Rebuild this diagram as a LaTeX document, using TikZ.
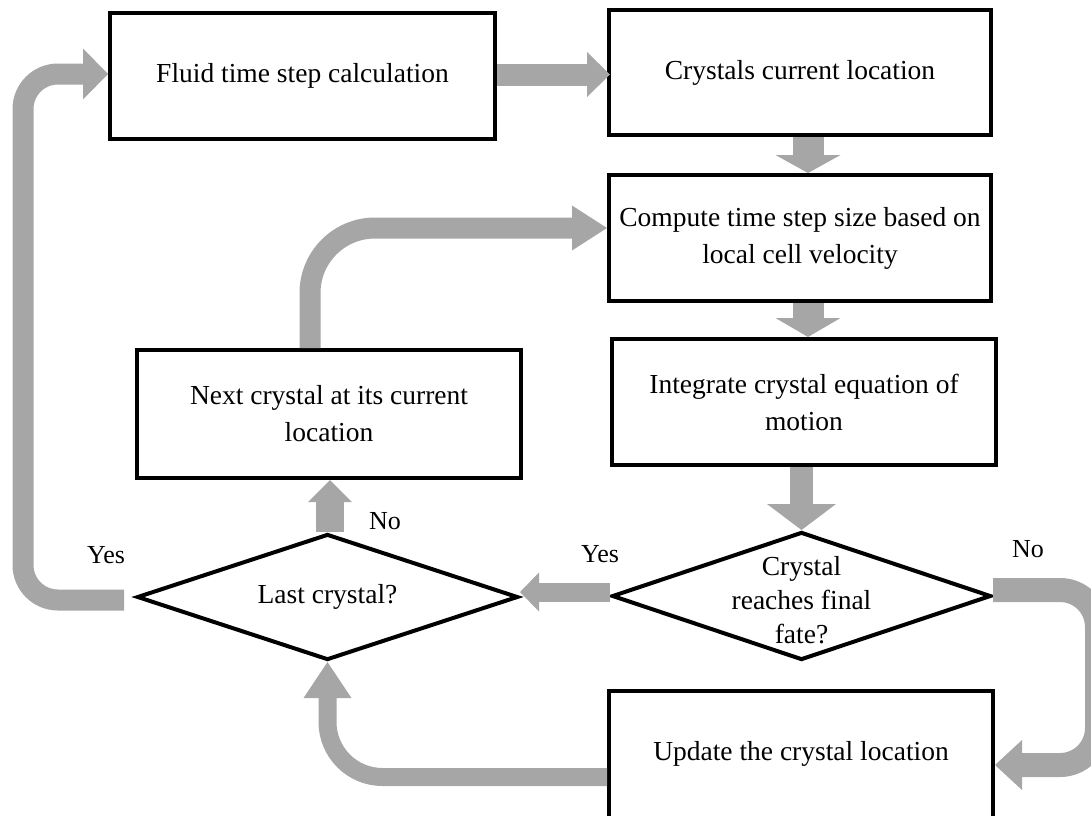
\documentclass[tikz,border=0pt]{standalone}
\usepackage{fontspec}
\setmainfont{Liberation Serif}
\usetikzlibrary{arrows.meta,shapes.geometric,calc}
\definecolor{arrowgray}{HTML}{A6A6A6}
\begin{document}
\begin{tikzpicture}[x=1pt,y=-1pt,
 box/.style={draw=black, line width=4pt, rectangle, inner sep=0pt, align=center, font=\fontsize{27.5}{37}\selectfont},
 dia/.style={draw=black, line width=4pt, diamond, inner sep=0pt},
 txt/.style={align=center, font=\fontsize{27.5}{34}\selectfont},
 lab/.style={font=\fontsize{26}{30}\selectfont},
 blk/.style n args={3}{draw=arrowgray, line width=#1pt, -{Triangle[length=#2pt, width=#3pt, line width=0pt, fill=arrowgray]}},
]
\useasboundingbox (0,0) rectangle (1091,815);
\clip (0,0) rectangle (1091,815);

% boxes
\node[box, minimum width=385pt, minimum height=126pt] (fluid) at (302.5,76) {Fluid time step calculation};
\node[box, minimum width=382pt, minimum height=125pt] (crys) at (800,72.5) {Crystals current location};
\node[box, minimum width=382pt, minimum height=126pt] (comp) at (800,238) {Compute time step size based on\\local cell velocity};
\node[box, minimum width=384pt, minimum height=126pt] (integ) at (804,402) {Integrate crystal equation of\\motion};
\node[box, minimum width=384pt, minimum height=128pt] (next) at (329,414) {Next crystal at its current\\location};
\node[dia, minimum width=381pt, minimum height=126pt] (last) at (327.5,597) {};
\node[txt] (lasttxt) at (last) {Last crystal?};
\node[dia, minimum width=379pt, minimum height=128pt] (reach) at (801.5,596) {};
\node[txt] (reachtxt) at (801.5,600) {Crystal\\reaches final\\fate?};
\node[box, minimum width=384pt, minimum height=160pt] (upd) at (801,771) {};
\node[txt] (updtxt) at (801,754) {Update the crystal location};

% labels
\node[lab] (yes1) at (106,555) {Yes};
\node[lab] (no1) at (385,521) {No};
\node[lab] (yes2) at (600,554) {Yes};
\node[lab] (no2) at (1028,549) {No};

% waypoints
\coordinate (yesstart) at (124,600);
\coordinate (yescorner) at (23,600);
\coordinate (nocorner) at (1097,590);

% arrows
\draw[blk={22}{23}{45}, shorten >=-3pt] (fluid.east |- 0,74.5) -- (crys.west |- 0,74.5);
\draw[blk={31}{18}{65}] (crys.south -| 808,0) -- (comp.north -| 808,0);
\draw[blk={31}{19}{65}] (comp.south -| 808,0) -- (integ.north -| 808,0);
\draw[blk={23}{26}{69}] (integ.south -| reach.north) -- (reach.north);
\draw[blk={19}{19}{39}] (reach.west |- 0,592) -- (last.east |- 0,592);
\draw[blk={28}{22}{44}] (last.north -| 330,0) -- (next.south -| 330,0);
\draw[blk={21}{35}{45}, rounded corners=65pt] (next.north -| 310,0) |- (comp.west |- 0,228);
\draw[blk={21}{25}{51}, rounded corners=35pt] (yesstart) -- (yescorner) |- (fluid.west |- 0,74);
\draw[blk={24}{27}{50}, rounded corners=37pt] (reach.east |- 0,590) -- (nocorner) |- (upd.east |- 0,765);
\draw[blk={18}{36}{48}, rounded corners=55pt] (upd.west |- 0,777) -| (last.south);
\end{tikzpicture}
\end{document}
